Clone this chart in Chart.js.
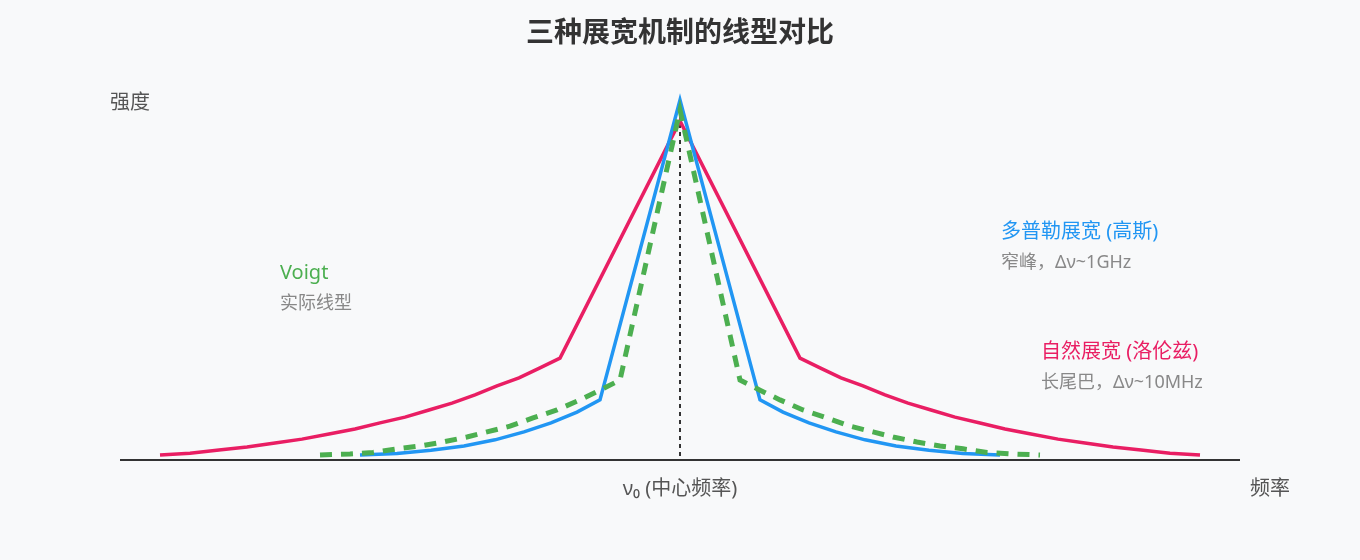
<!DOCTYPE html>
<html>
<head>
<meta charset="utf-8">
<script src="https://cdn.jsdelivr.net/npm/chart.js@4/dist/chart.umd.min.js"></script>
<style>
  html, body { margin: 0; padding: 0; background: #f8f9fa; }
  #wrap { width: 1360px; height: 560px; }
</style>
</head>
<body>
<div id="wrap"><canvas id="c" width="1360" height="560"></canvas></div>
<script>
// ---- data (x: frequency offset from ν0, arbitrary units; y: relative intensity) ----
const lorentzX = [-52, -49, -46.1, -43.3, -40.5, -37.8, -35.1, -32.5, -30, -27.5, -25.1, -22.8, -20.5, -18.3, -16.1, -14, -12,
                  0,
                  12, 14, 16.1, 18.3, 20.5, 22.8, 25.1, 27.5, 30, 32.5, 35.1, 37.8, 40.5, 43.3, 46.1, 49, 52];
const lorentzY = [1.4, 1.9, 2.8, 3.6, 4.7, 5.8, 7.2, 8.6, 10.3, 11.9, 13.9, 15.8, 18.1, 20.6, 22.8, 25.6, 28.3,
                  94.2,
                  28.3, 25.6, 22.8, 20.6, 18.1, 15.8, 13.9, 11.9, 10.3, 8.6, 7.2, 5.8, 4.7, 3.6, 2.8, 1.9, 1.4];

const dopplerX = [-32, -28.3, -24.9, -21.6, -18.5, -15.6, -12.9, -10.3, -8,
                  0,
                  8, 10.3, 12.9, 15.6, 18.5, 21.6, 24.9, 28.3, 32];
const dopplerY = [1.4, 1.8, 2.7, 3.9, 5.6, 7.8, 10.3, 13.3, 16.7,
                  100,
                  16.7, 13.3, 10.3, 7.8, 5.6, 3.9, 2.7, 1.8, 1.4];

const voigtX = [-36, -33, -30.7, -28.3, -26, -23.7, -21.3, -19.3, -17, -14.7, -12.3, -10, -8, -6,
                0,
                6, 8, 10, 12.3, 14.7, 17, 19.3, 21.3, 23.7, 26, 28.3, 30.7, 33, 36];
const voigtY = [1.4, 1.7, 2.1, 3.1, 3.9, 5.0, 6.4, 7.8, 9.4, 11.7, 13.9, 16.7, 19.4, 22.2,
                97.2,
                22.2, 19.4, 16.7, 13.9, 11.7, 9.4, 7.8, 6.4, 5.0, 3.9, 3.1, 2.1, 1.7, 1.4];

const titleText = '三种展宽机制的线型对比';
const yAxisLabel = '强度';
const xAxisLabel = '频率';
const centerLabel = 'ν₀ (中心频率)';
const seriesNames = ['自然展宽 (洛伦兹)', '多普勒展宽 (高斯)', 'Voigt'];
const seriesNotes = ['长尾巴，Δν~10MHz', '窄峰，Δν~1GHz', '实际线型'];

const toPoints = (xs, ys) => xs.map((x, i) => ({ x: x, y: ys[i] }));

const FONT = "'Noto Sans', 'Noto Sans CJK SC', sans-serif";
const RED = '#E91E63', BLUE = '#2196F3', GREEN = '#4CAF50';

const decor = {
  id: 'decor',
  beforeDraw(chart) {
    const ctx = chart.ctx;
    ctx.save();
    ctx.fillStyle = '#f8f9fa';
    ctx.fillRect(0, 0, chart.width, chart.height);
    ctx.restore();
  },
  beforeDatasetsDraw(chart) {
    const ctx = chart.ctx, xs = chart.scales.x, ys = chart.scales.y;
    const y0 = ys.getPixelForValue(0);
    const xc = xs.getPixelForValue(0);
    ctx.save();
    ctx.strokeStyle = '#333';
    ctx.lineWidth = 2;
    ctx.setLineDash([4, 4]);
    ctx.beginPath();
    ctx.moveTo(xc, ys.getPixelForValue(100));
    ctx.lineTo(xc, y0);
    ctx.stroke();
    ctx.setLineDash([]);
    ctx.strokeStyle = '#333';
    ctx.lineWidth = 2;
    ctx.beginPath();
    ctx.moveTo(xs.left, y0);
    ctx.lineTo(xs.right, y0);
    ctx.stroke();
    ctx.restore();
  },
  afterDraw(chart) {
    const ctx = chart.ctx, xs = chart.scales.x;
    const xc = xs.getPixelForValue(0);
    ctx.save();
    ctx.textBaseline = 'middle';
    ctx.textAlign = 'center';
    ctx.fillStyle = '#333';
    ctx.font = 'bold 28px ' + FONT;
    ctx.fillText(titleText, 680, 34);
    ctx.font = '20px ' + FONT;
    ctx.fillStyle = '#555';
    ctx.fillText(centerLabel, xc, 489);
    ctx.textAlign = 'left';
    ctx.fillText(yAxisLabel, 110, 103);
    ctx.fillText(xAxisLabel, 1250, 489);
    const ann = [
      { name: seriesNames[1], note: seriesNotes[1], color: BLUE, x: 1001, y: 232 },
      { name: seriesNames[0], note: seriesNotes[0], color: RED, x: 1041, y: 352 },
      { name: seriesNames[2], note: seriesNotes[2], color: GREEN, x: 280, y: 273 }
    ];
    ann.forEach(a => {
      ctx.font = '20px ' + FONT;
      ctx.fillStyle = a.color;
      ctx.fillText(a.name, a.x, a.y);
      ctx.font = '18px ' + FONT;
      ctx.fillStyle = '#888';
      ctx.fillText(a.note, a.x, a.y + 31);
    });
    ctx.restore();
  }
};

new Chart(document.getElementById('c'), {
  type: 'line',
  data: {
    datasets: [
      { label: seriesNames[0], data: toPoints(lorentzX, lorentzY), borderColor: RED, borderWidth: 3.5, order: 3 },
      { label: seriesNames[1], data: toPoints(dopplerX, dopplerY), borderColor: BLUE, borderWidth: 3.5, order: 2 },
      { label: seriesNames[2], data: toPoints(voigtX, voigtY), borderColor: GREEN, borderWidth: 5, borderDash: [12, 9], order: 1 }
    ]
  },
  options: {
    responsive: false,
    animation: false,
    devicePixelRatio: 1,
    clip: false,
    layout: { padding: { left: 120, right: 120, top: 100, bottom: 100 } },
    elements: {
      point: { radius: 0 },
      line: { tension: 0, fill: false, borderJoinStyle: 'miter', borderCapStyle: 'butt' }
    },
    scales: {
      x: { type: 'linear', min: -56, max: 56, display: false },
      y: { type: 'linear', min: 0, max: 100, display: false }
    },
    plugins: {
      legend: { display: false },
      tooltip: { enabled: false },
      title: { display: false }
    }
  },
  plugins: [decor]
});
</script>
</body>
</html>
